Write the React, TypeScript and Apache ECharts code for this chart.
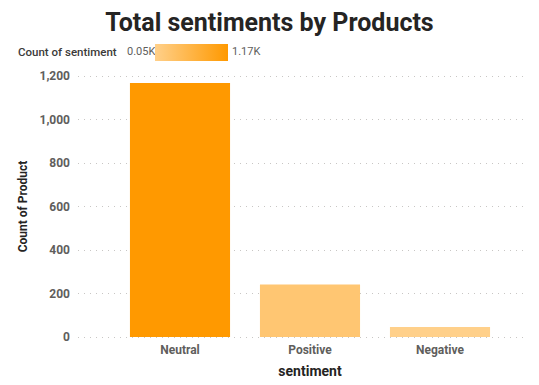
import React, { useEffect, useRef } from "react";
import * as echarts from "echarts";

const categories = ["Neutral", "Positive", "Negative"];
const counts = [1168, 241, 46];
const yTicks = [0, 200, 400, 600, 800, 1000, 1200];
const legendTitle = "Count of sentiment";
const legendLow = "0.05K";
const legendHigh = "1.17K";
const lowColor = "#FFD08A";
const highColor = "#FF9900";

const FONT = "Roboto, 'DejaVu Sans', sans-serif";

export default function App() {
  const ref = useRef<HTMLDivElement>(null);
  useEffect(() => {
    if (!ref.current) return;
    const chart = echarts.init(ref.current, undefined, { renderer: "svg" });
    const top = 76;
    const bottom = 385 - 337;
    chart.setOption({
      animation: false,
      backgroundColor: "#ffffff",
      title: {
        text: "Total sentiments by Products",
        left: "center",
        top: 5,
        textStyle: { fontFamily: FONT, fontSize: 25, fontWeight: "bold", color: "#252423" },
      },
      graphic: [
        {
          type: "text",
          left: 18,
          top: 46,
          style: { text: legendTitle, fontFamily: FONT, fontSize: 11.5, fontWeight: 500, fill: "#3B3A39" },
        },
        {
          type: "text",
          left: 127,
          top: 46,
          style: { text: legendLow, fontFamily: FONT, fontSize: 11, fill: "#605E5C" },
        },
        {
          type: "rect",
          shape: { x: 155, y: 44, width: 73, height: 17 },
          style: {
            fill: new echarts.graphic.LinearGradient(0, 0, 1, 0, [
              { offset: 0, color: lowColor },
              { offset: 1, color: highColor },
            ]),
          },
        },
        {
          type: "text",
          left: 232,
          top: 46,
          style: { text: legendHigh, fontFamily: FONT, fontSize: 11, fill: "#605E5C" },
        },
      ],
      visualMap: {
        type: "continuous",
        show: false,
        min: Math.min(...counts),
        max: Math.max(...counts),
        inRange: { color: [lowColor, highColor] },
        seriesIndex: 0,
      },
      grid: [
        { left: 78, right: 14, top, bottom },
        { left: 115, right: 34, top, bottom },
      ],
      xAxis: [
        { type: "value", gridIndex: 0, show: false, min: 0, max: 1 },
        {
          type: "category",
          gridIndex: 1,
          data: categories,
          axisLine: { show: false },
          axisTick: { show: false },
          axisLabel: { fontFamily: FONT, fontSize: 12, fontWeight: "bold", color: "#605E5C", margin: 7 },
          name: "sentiment",
          nameLocation: "middle",
          nameGap: 27,
          nameTextStyle: { fontFamily: FONT, fontSize: 14, fontWeight: "bold", color: "#252423" },
        },
      ],
      yAxis: [
        {
          type: "value",
          gridIndex: 0,
          min: 0,
          max: yTicks[yTicks.length - 1],
          interval: 200,
          axisLine: { show: false },
          axisTick: { show: false },
          axisLabel: {
            fontFamily: FONT,
            fontSize: 12,
            fontWeight: "bold",
            color: "#605E5C",
            margin: 8,
            formatter: (v: number) => v.toLocaleString("en-US"),
          },
          splitLine: { lineStyle: { type: [1, 5], color: "#C8C6C4", width: 1 } },
          name: "Count of Product",
          nameLocation: "middle",
          nameGap: 42,
          nameRotate: 90,
          nameTextStyle: { fontFamily: FONT, fontSize: 12, fontWeight: "bold", color: "#252423" },
        },
        {
          type: "value",
          gridIndex: 1,
          min: 0,
          max: yTicks[yTicks.length - 1],
          show: false,
          splitLine: { show: false },
        },
      ],
      series: [
        {
          type: "bar",
          xAxisIndex: 1,
          yAxisIndex: 1,
          data: counts,
          barCategoryGap: "23%",
        },
      ],
    });
    return () => chart.dispose();
  }, []);
  return <div ref={ref} style={{ width: 539, height: 385, position: "absolute", left: 0, top: 0 }} />;
}
